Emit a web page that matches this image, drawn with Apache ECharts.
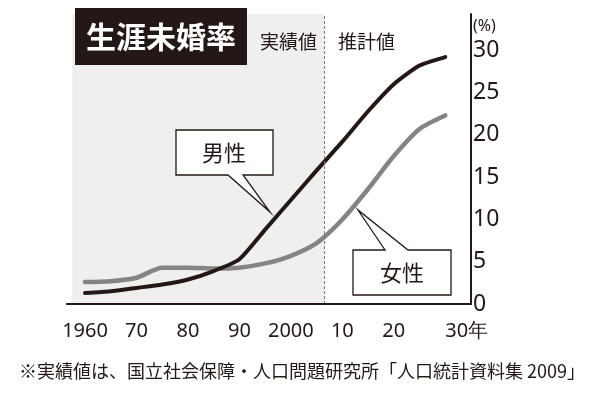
<!DOCTYPE html>
<html>
<head>
<meta charset="utf-8">
<script src="https://cdn.jsdelivr.net/npm/echarts@6/dist/echarts.min.js"></script>
<style>
  html, body {margin: 0; padding: 0; background: #fff;}
  #chart {width: 600px; height: 398px;}
</style>
</head>
<body>
<div id="chart"></div>
<script>
const years = [1960, 1965, 1970, 1975, 1980, 1985, 1990, 1995, 2000, 2005, 2010, 2015, 2020, 2025, 2030]
const male = [1.3, 1.5, 1.9, 2.3, 2.9, 3.9, 5.3, 8.8, 12.3, 15.8, 19.2, 22.8, 26.0, 28.2, 29.2]
const female = [2.6, 2.7, 3.1, 4.3, 4.3, 4.2, 4.3, 4.8, 5.7, 7.2, 10.0, 13.6, 17.5, 20.7, 22.3]

const xTickYears = [1960, 1970, 1980, 1990, 2000, 2010, 2020, 2030]
const xTickLabels = ['1960', '70', '80', '90', '2000', '10', '20', '30年']
const yTicks = [0, 5, 10, 15, 20, 25, 30]

const actualStart = 1957.5
const actualEnd = 2006.5

const ink = '#231815'
const jp = '"Noto Sans CJK JP", "Noto Sans", sans-serif'

const chart = echarts.init(document.getElementById('chart'), null, {renderer: 'canvas'})

const toPairs = (vals) => years.map((y, i) => [y, vals[i]])

chart.setOption({
    animation: false,
    title: {
        text: '生涯未婚率',
        left: 75,
        top: 8,
        z: 20,
        backgroundColor: ink,
        padding: [13, 11, 13, 11],
        textStyle: {color: '#fff', fontSize: 30, fontWeight: 'bold', fontFamily: jp, lineHeight: 31}
    },
    grid: {left: 67, right: 129, top: 14, bottom: 94},
    xAxis: {
        type: 'value',
        min: 1956.5,
        max: 2035,
        z: 5,
        axisLine: {lineStyle: {color: ink, width: 2}},
        axisTick: {show: false},
        splitLine: {show: false},
        axisLabel: {
            customValues: xTickYears,
            formatter: (v) => xTickLabels[xTickYears.indexOf(v)] || '',
            alignMaxLabel: 'left',
            margin: 17,
            color: ink,
            fontSize: 20,
            fontFamily: '"Noto Sans", sans-serif'
        }
    },
    yAxis: {
        type: 'value',
        position: 'right',
        min: 0,
        max: 34.3,
        z: 5,
        axisLine: {show: true, lineStyle: {color: ink, width: 2}},
        axisTick: {show: false},
        splitLine: {show: false},
        axisLabel: {
            customValues: yTicks,
            formatter: (v) => yTicks.includes(v) ? String(v) : '',
            margin: 2,
            color: ink,
            fontSize: 23,
            fontFamily: '"Noto Sans", sans-serif'
        }
    },
    series: [
        {
            name: '女性',
            type: 'line',
            data: toPairs(female),
            symbol: 'none',
            smooth: 0.25,
            lineStyle: {color: '#848484', width: 4.5, cap: 'round', join: 'round'},
            markArea: {
                silent: true,
                itemStyle: {color: '#eeefee'},
                data: [[{xAxis: actualStart, yAxis: 0}, {xAxis: actualEnd, yAxis: 34.3}]]
            },
            markLine: {
                silent: true,
                symbol: 'none',
                label: {show: false},
                lineStyle: {color: '#7a7a7a', width: 1, type: [3, 2]},
                data: [{xAxis: actualEnd}]
            }
        },
        {
            name: '男性',
            type: 'line',
            data: toPairs(male),
            symbol: 'none',
            smooth: 0.2,
            lineStyle: {color: ink, width: 4, cap: 'round', join: 'round'}
        }
    ],
    graphic: [
        {type: 'text', left: 260, top: 32, z: 20, style: {text: '実績値', fill: ink, fontSize: 19, fontFamily: jp}},
        {type: 'text', left: 338, top: 32, z: 20, style: {text: '推計値', fill: ink, fontSize: 19, fontFamily: jp}},
        {type: 'text', left: 473, top: 18, z: 20, style: {text: '(%)', fill: ink, fontSize: 16, fontFamily: '"Noto Sans", sans-serif'}},
        {
            type: 'polygon',
            shape: {points: [[176, 130], [273, 130], [273, 175], [243, 175], [270, 212], [228, 175], [176, 175]]},
            style: {fill: '#fff', stroke: ink, lineWidth: 1.3},
            z: 20
        },
        {type: 'text', x: 224, y: 153, z: 21, style: {text: '男性', fill: ink, fontSize: 22, fontFamily: jp, align: 'center', verticalAlign: 'middle'}},
        {
            type: 'polygon',
            shape: {points: [[353, 250], [385, 250], [358, 210], [408, 250], [451, 250], [451, 295], [353, 295]]},
            style: {fill: '#fff', stroke: ink, lineWidth: 1.3},
            z: 20
        },
        {type: 'text', x: 402, y: 273, z: 21, style: {text: '女性', fill: ink, fontSize: 22, fontFamily: jp, align: 'center', verticalAlign: 'middle'}},
        {type: 'text', left: 19, top: 362, z: 20, style: {text: '※実績値は、国立社会保障・人口問題研究所「人口統計資料集 2009」', fill: ink, fontSize: 18, fontFamily: jp}}
    ]
})
</script>
</body>
</html>
